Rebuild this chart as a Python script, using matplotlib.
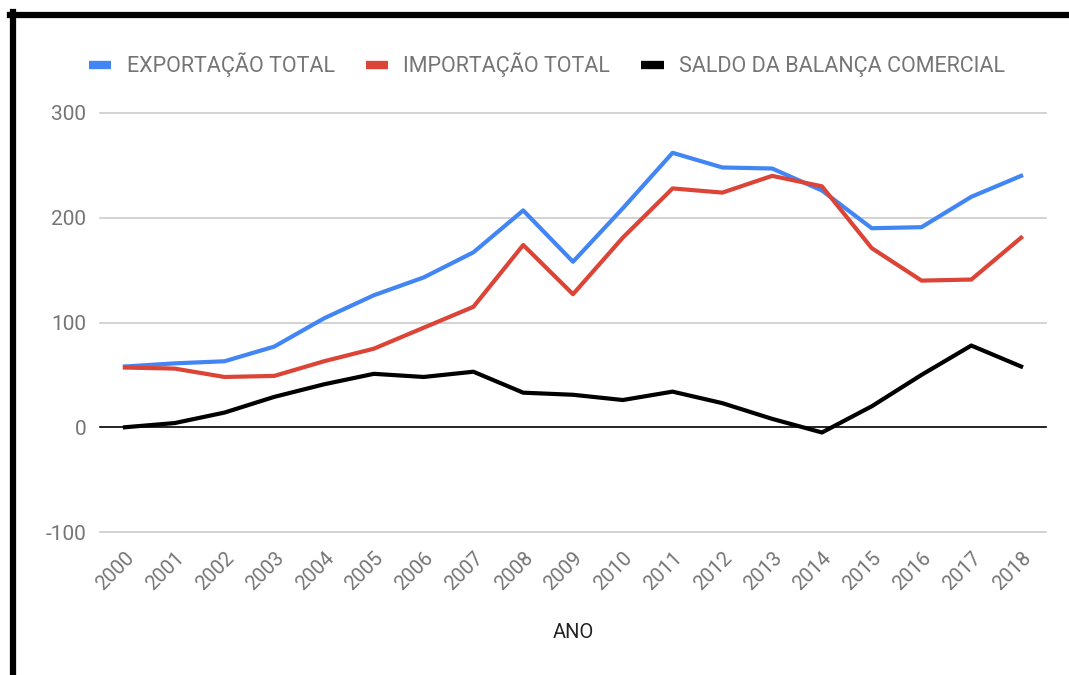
import matplotlib
matplotlib.use('Agg')
import matplotlib.pyplot as plt
from matplotlib.lines import Line2D

# ── Data ──
anos = [2000, 2001, 2002, 2003, 2004, 2005, 2006, 2007, 2008, 2009,
        2010, 2011, 2012, 2013, 2014, 2015, 2016, 2017, 2018]
exportacao = [58, 61, 63, 77, 104, 126, 143, 167, 207, 158,
              209, 262, 248, 247, 226, 190, 191, 220, 240]
importacao = [57, 56, 48, 49, 63, 75, 95, 115, 174, 127,
              181, 228, 224, 240, 230, 171, 140, 141, 181]
saldo = [0, 4, 14, 29, 41, 51, 48, 53, 33, 31,
         26, 34, 23, 8, -5, 20, 50, 78, 58]
y_ticks = [-100, 0, 100, 200, 300]

TXT = '#757575'
plt.rcParams['font.family'] = ['Roboto', 'DejaVu Sans']

fig = plt.figure(figsize=(10.69, 6.75), dpi=100)
ax = fig.add_axes([100 / 1069, 1 - 532 / 675, 946 / 1069, 419 / 675])

x = list(range(len(anos)))
for y in y_ticks:
    ax.axhline(y, color='black' if y == 0 else '#cccccc',
               linewidth=1.2, zorder=1, clip_on=False)

ax.plot(x, exportacao, color='#4285F4', linewidth=3, zorder=3,
        label='EXPORTAÇÃO TOTAL')
ax.plot(x, importacao, color='#DB4437', linewidth=3, zorder=3,
        label='IMPORTAÇÃO TOTAL')
ax.plot(x, saldo, color='black', linewidth=3, zorder=3,
        label='SALDO DA BALANÇA COMERCIAL')

ax.set_xlim(-0.5, len(anos) - 0.5)
ax.set_ylim(-100, 300)
ax.set_yticks(y_ticks)
ax.set_yticklabels([str(v) for v in y_ticks], fontsize=15, color=TXT)
ax.set_xticks(x)
ax.set_xticklabels([str(a) for a in anos], rotation=45, ha='right',
                   rotation_mode='anchor', fontsize=14.5, color=TXT)
ax.tick_params(axis='both', length=0)
ax.tick_params(axis='y', pad=10)
ax.tick_params(axis='x', pad=12)
for s in ax.spines.values():
    s.set_visible(False)

fig.text(573 / 1069, 1 - 632 / 675, 'ANO', ha='center', va='center',
         fontsize=14.5, color='#222222')

leg = fig.legend(loc='center', bbox_to_anchor=(547 / 1069, 1 - 65 / 675),
                 ncol=3, frameon=False, fontsize=15.5, handlelength=1.05,
                 handletextpad=0.7, columnspacing=1.45)
for t in leg.get_texts():
    t.set_color(TXT)
for h in leg.legend_handles:
    h.set_linewidth(6)
    h.set_solid_capstyle('butt')

# black frame at top and left (screenshot border)
fig.add_artist(Line2D([10 / 1069, 1], [1 - 14.5 / 675, 1 - 14.5 / 675],
                      color='black', linewidth=4.5, transform=fig.transFigure))
fig.add_artist(Line2D([12.5 / 1069, 12.5 / 1069], [0, 1 - 12 / 675],
                      color='black', linewidth=4.5, transform=fig.transFigure))

fig.savefig('out.png', dpi=100, facecolor='white')
